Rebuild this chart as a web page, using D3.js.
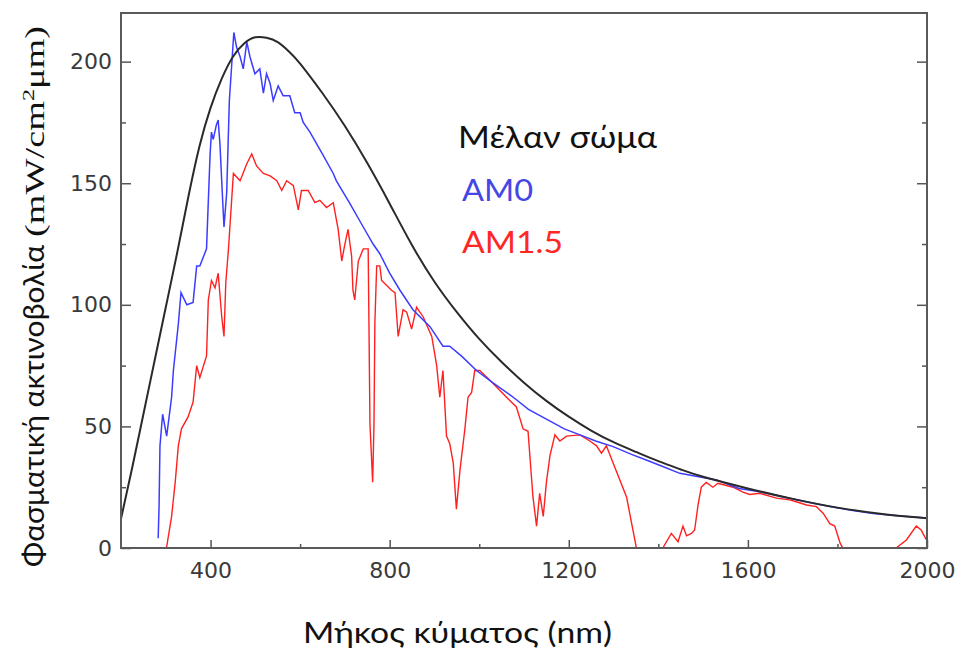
<!DOCTYPE html>
<html>
<head>
<meta charset="utf-8">
<script src="https://cdn.jsdelivr.net/npm/d3@7"></script>
<style>
  body { margin: 0; background: #fff; }
  svg { display: block; }
</style>
</head>
<body>
<div id="chart"></div>
<script>
// Datos: [longitud de onda (nm), irradiancia (mW/cm²μm)]
const cuerpoNegro = [
  [200, 12], [225, 33], [250, 55], [275, 77], [300, 99], [325, 121], [350, 144],
  [375, 165], [400, 181], [425, 193], [450, 202], [475, 207.5], [500, 210], [525, 209.8],
  [550, 208], [575, 204.2], [600, 199.2], [650, 187], [700, 173.5], [750, 158.3], [800, 141.6],
  [850, 124.5], [900, 109.5], [950, 97], [1000, 86], [1050, 76.5], [1100, 68], [1150, 60.5],
  [1200, 54], [1250, 48.3], [1300, 43.5], [1350, 39.5], [1400, 35.7], [1450, 32.3],
  [1500, 29.3], [1600, 24.5], [1700, 20.2], [1800, 16.6], [1900, 14], [2000, 12.2]
];

const am0 = [
  [283, 4], [285, 17], [287, 42], [293, 55], [302, 46], [313, 62], [317, 73], [328, 92],
  [334, 105], [347, 100], [361, 101], [369, 116], [376, 116], [391, 123], [399, 162],
  [402, 171], [406, 168], [413, 174], [417, 176], [421, 166], [427, 143], [430, 132],
  [436, 146], [442, 184], [447, 198], [452, 212], [458, 206], [466, 202], [473, 197],
  [481, 208], [488, 202], [499, 195], [510, 197], [518, 187], [525, 195], [533, 191],
  [540, 184], [551, 190], [562, 186], [577, 186], [588, 179], [600, 179], [607, 175],
  [622, 171], [650, 162], [674, 154], [681, 151], [710, 142], [741, 132], [763, 125],
  [778, 121], [800, 113], [823, 106], [852, 98], [890, 91], [919, 83], [934, 83],
  [960, 79], [994, 73], [1030, 68], [1076, 62], [1110, 57], [1150, 53], [1190, 49],
  [1225, 46.5], [1260, 44], [1299, 41.7], [1340, 38.5], [1373, 36.2], [1410, 33.5],
  [1448, 30.7], [1490, 29.3], [1530, 28], [1580, 24.5], [1630, 23], [1678, 21.1],
  [1730, 19], [1780, 17.2], [1827, 15.6], [1880, 14.2], [1940, 13.2], [2000, 12.3]
];

const am15 = [
  [300, 0], [302, 0.5], [313, 13], [321, 27], [328, 42], [335, 49], [350, 54], [361, 60],
  [369, 75], [376, 70], [391, 79], [395, 102], [402, 110], [410, 107], [417, 113],
  [425, 95], [430, 87], [434, 109], [440, 123], [451, 154], [466, 151], [481, 158],
  [492, 162], [503, 157], [518, 154], [533, 153], [548, 151], [559, 147], [570, 151],
  [585, 149], [596, 139], [603, 147], [618, 147], [633, 142], [644, 143], [659, 140],
  [674, 142], [685, 131], [693, 118], [700, 125], [707, 131], [715, 120], [718, 106],
  [722, 102], [730, 118], [741, 123], [752, 123], [756, 51], [762, 27], [765, 51],
  [767, 93], [771, 116], [778, 116], [782, 110], [793, 108], [804, 106], [812, 105],
  [819, 87], [830, 98], [838, 97], [849, 90], [860, 99], [875, 95], [894, 87],
  [905, 75], [912, 62], [919, 73], [927, 46], [934, 43], [942, 35], [949, 16],
  [957, 32], [968, 49], [975, 62], [983, 64], [990, 73], [1001, 73], [1024, 69],
  [1061, 62], [1083, 58], [1098, 49], [1109, 48], [1120, 21], [1128, 9], [1135, 22.5],
  [1143, 13], [1150, 27], [1158, 38], [1169, 46.5], [1180, 44], [1195, 46], [1225, 46.5],
  [1247, 44], [1262, 42], [1273, 39], [1284, 42], [1299, 35], [1329, 21], [1351, 0],
  [1410, 0], [1429, 6], [1444, 2.6], [1455, 9], [1463, 5], [1474, 6], [1481, 7.4],
  [1489, 18], [1496, 25], [1507, 27], [1522, 25], [1533, 26.6], [1567, 25], [1589, 23],
  [1604, 22], [1626, 22.5], [1664, 20.5], [1693, 19.8], [1708, 19], [1731, 17.7],
  [1753, 17], [1768, 14.3], [1783, 10], [1794, 9], [1806, 2], [1812, 0], [1931, 0],
  [1954, 3.3], [1976, 9], [1987, 7.4], [1995, 4.6], [2000, 3]
];

const ticksX = [400, 800, 1200, 1600, 2000];
const ticksXMenores = [600, 1000, 1400, 1800];
const ticksY = [0, 50, 100, 150, 200];
const ticksYMenores = [25, 75, 125, 175];

const leyenda = [
  { texto: "Μέλαν σώμα", color: "#111" },
  { texto: "AM0", color: "#4646e6" },
  { texto: "AM1.5", color: "#ff2626" }
];

// 1. Lienzo
const W = 956, H = 652;
const area = { left: 121, right: 927, top: 13, bottom: 548 };

const svg = d3.select("#chart")
  .append("svg")
  .attr("width", W)
  .attr("height", H);

// 2. Escalas
const x = d3.scaleLinear().domain([200, 2000]).range([area.left, area.right]);
const y = d3.scaleLinear().domain([0, 220]).range([area.bottom, area.top]);

svg.append("clipPath").attr("id", "clip")
  .append("rect")
  .attr("x", area.left).attr("y", area.top)
  .attr("width", area.right - area.left).attr("height", area.bottom - area.top);

// 3. Curvas
const linea = d3.line().x(d => x(d[0])).y(d => y(d[1]));
const curvas = svg.append("g").attr("clip-path", "url(#clip)");

curvas.append("path").datum(am15)
  .attr("d", linea).attr("fill", "none")
  .attr("stroke", "#ff2020").attr("stroke-width", 1.4);

curvas.append("path").datum(am0)
  .attr("d", linea).attr("fill", "none")
  .attr("stroke", "#3c3cff").attr("stroke-width", 1.5);

// el cuerpo negro es una curva suave
curvas.append("path").datum(cuerpoNegro)
  .attr("d", d3.line().curve(d3.curveNatural).x(d => x(d[0])).y(d => y(d[1])))
  .attr("fill", "none")
  .attr("stroke", "#2a2a2a").attr("stroke-width", 2);

// 4. Ejes (ticks hacia dentro)
const estiloEje = g => {
  g.select(".domain").remove();
  g.selectAll(".tick line").attr("stroke", "#555").attr("stroke-width", 1.5);
  g.selectAll(".tick text")
    .attr("fill", "#3a3a3a")
    .style("font-family", "'DejaVu Sans', Verdana, sans-serif")
    .style("font-size", "22px");
};

svg.append("g")
  .attr("transform", `translate(0,${area.bottom})`)
  .call(d3.axisBottom(x).tickValues(ticksX).tickSize(-8).tickPadding(14).tickFormat(d3.format("d")))
  .call(estiloEje);

svg.append("g")
  .attr("transform", `translate(0,${area.bottom})`)
  .call(d3.axisBottom(x).tickValues(ticksXMenores).tickSize(-4).tickFormat(""))
  .call(estiloEje);

svg.append("g")
  .attr("transform", `translate(${area.left},0)`)
  .call(d3.axisLeft(y).tickValues(ticksY).tickSize(-10).tickPadding(9))
  .call(estiloEje);

svg.append("g")
  .attr("transform", `translate(${area.left},0)`)
  .call(d3.axisLeft(y).tickValues(ticksYMenores).tickSize(-5).tickFormat(""))
  .call(estiloEje);

svg.append("g")
  .attr("transform", `translate(${area.right},0)`)
  .call(d3.axisRight(y).tickValues(ticksY).tickSize(-10).tickFormat(""))
  .call(estiloEje);

svg.append("g")
  .attr("transform", `translate(${area.right},0)`)
  .call(d3.axisRight(y).tickValues(ticksYMenores).tickSize(-5).tickFormat(""))
  .call(estiloEje);

// Marco
svg.append("rect")
  .attr("x", area.left).attr("y", area.top)
  .attr("width", area.right - area.left).attr("height", area.bottom - area.top)
  .attr("fill", "none").attr("stroke", "#5a5a5a").attr("stroke-width", 2);

// 5. Títulos de ejes
const fuente = "Lato, 'Noto Sans', 'Open Sans', sans-serif";

svg.append("text")
  .attr("x", 303).attr("y", 643)
  .attr("textLength", 309).attr("lengthAdjust", "spacingAndGlyphs")
  .style("font-family", fuente).style("font-size", "29px")
  .attr("fill", "#111")
  .text("Μήκος κύματος (nm)");

const tituloY = svg.append("g").attr("transform", "translate(44,0) rotate(-90)");

tituloY.append("text")
  .attr("x", -567).attr("y", 0)
  .attr("textLength", 322).attr("lengthAdjust", "spacingAndGlyphs")
  .style("font-family", fuente).style("font-size", "29px")
  .attr("fill", "#111")
  .text("Φασματική ακτινοβολία");

const unidad = tituloY.append("text")
  .attr("x", -237).attr("y", 0)
  .style("font-family", "'Liberation Serif', 'DejaVu Serif', serif")
  .style("font-size", "27px")
  .attr("fill", "#111");
unidad.append("tspan").text("(mW/cm");
unidad.append("tspan").attr("dy", -10).style("font-size", "17px").text("2");
unidad.append("tspan").attr("dy", 10).text("μm)");
// ajustar la unidad al largo medido en la imagen
const largo = unidad.node().getComputedTextLength();
unidad.attr("transform", `translate(-237,0) scale(${211 / largo},1) translate(237,0)`);

// 6. Leyenda
const posLeyenda = [[458, 148, 199], [462, 201, 71], [462, 253, 101]];
svg.append("g")
  .selectAll("text")
  .data(leyenda)
  .join("text")
  .attr("x", (d, i) => posLeyenda[i][0])
  .attr("y", (d, i) => posLeyenda[i][1])
  .attr("textLength", (d, i) => posLeyenda[i][2])
  .attr("lengthAdjust", "spacingAndGlyphs")
  .style("font-family", fuente).style("font-size", "31px")
  .attr("fill", d => d.color)
  .text(d => d.texto);
</script>
</body>
</html>
